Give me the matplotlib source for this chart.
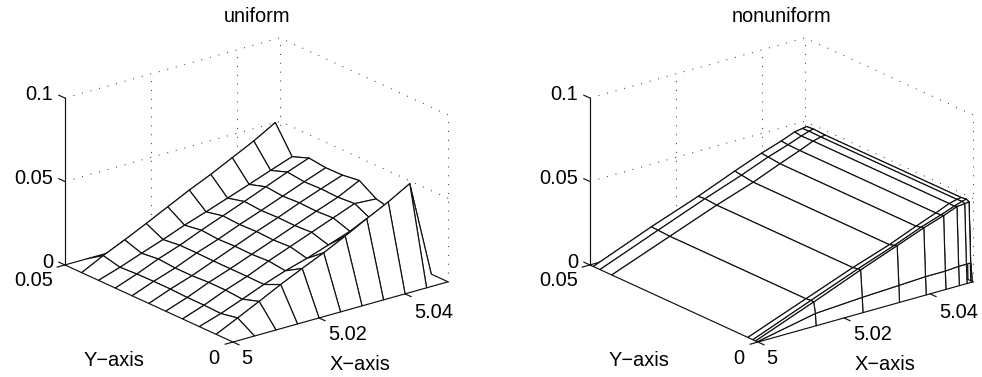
import numpy as np
import matplotlib
matplotlib.use("Agg")
import matplotlib.pyplot as plt
from mpl_toolkits.mplot3d import Axes3D  # noqa: F401

plt.rcParams["font.family"] = ["Liberation Sans", "DejaVu Sans"]

# ==========================
# Data
# ==========================
x_uniform = [5.0, 5.005, 5.01, 5.015, 5.02, 5.025, 5.03, 5.035, 5.04, 5.045, 5.05]
y_uniform = [0.0, 0.005, 0.01, 0.015, 0.02, 0.025, 0.03, 0.035, 0.04, 0.045, 0.05]
# one row per y value, one column per x value
z_uniform = [
    [0, 0, 0, 0, 0, 0, 0, 0, 0, 0, 0],
    [0, .0062, .0125, .0190, .0250, .0308, .0372, .0440, .0504, .0578, 0],
    [0, .0042, .0092, .0144, .0190, .0228, .0272, .0318, .0352, .0370, 0],
    [0, .0046, .0100, .0146, .0202, .0252, .0302, .0352, .0402, .0394, 0],
    [0, .0046, .0100, .0146, .0196, .0246, .0296, .0346, .0394, .0458, 0],
    [0, .0050, .0094, .0146, .0198, .0250, .0298, .0350, .0398, .0444, 0],
    [0, .0050, .0094, .0148, .0194, .0246, .0294, .0344, .0394, .0442, 0],
    [0, .0048, .0102, .0148, .0202, .0252, .0302, .0354, .0406, .0454, 0],
    [0, .0042, .0090, .0136, .0186, .0230, .0276, .0322, .0370, .0416, 0],
    [0, .0066, .0124, .0186, .0250, .0314, .0372, .0436, .0500, .0574, 0],
    [0, 0, 0, 0, 0, 0, 0, 0, 0, 0, 0],
]

x_nonuniform = [5.0, 5.0135, 5.0244, 5.0329, 5.0391, 5.0437, 5.0468, 5.0486, 5.0496, 5.05]
y_nonuniform = [0.0, 0.0002, 0.0007, 0.0015, 0.003, 0.0435, 0.047, 0.049, 0.05]
z_nonuniform = [
    [0, 0, 0, 0, 0, 0, 0, 0, 0, 0],
    [0, .0072, .0090, .0100, .0108, .0108, .0114, .0114, .0114, 0],
    [0, .0136, .0250, .0334, .0396, .0436, .0468, .0472, .0476, 0],
    [0, .0138, .0248, .0328, .0392, .0432, .0462, .0478, .0484, 0],
    [0, .0134, .0242, .0318, .0384, .0430, .0464, .0476, .0480, 0],
    [0, .0134, .0242, .0318, .0384, .0430, .0464, .0476, .0480, 0],
    [0, .0138, .0248, .0328, .0392, .0432, .0462, .0478, .0484, 0],
    [0, .0140, .0244, .0334, .0396, .0436, .0468, .0476, .0480, 0],
    [0, 0, 0, 0, 0, 0, 0, 0, 0, 0],
]

x_ticks = [5, 5.02, 5.04]
y_ticks = [0, 0.05]
z_ticks = [0, 0.05, 0.1]
x_tick_labels = ["5", "5.02", "5.04"]
y_tick_labels = ["0", "0.05"]
z_tick_labels = ["0", "0.05", "0.1"]
titles = ["uniform", "nonuniform"]

# ==========================
# Layout (pixels)
# ==========================
W, H = 982, 377
panel_shift = 525
axes_size = 413
axes_left = 44.4
axes_bottom = -25

x_min, x_max = 5, 5.05
y_min, y_max = 0, 0.05
z_min, z_max = 0, 0.1
tick_x = 0.0018
tick_y = 0.0018


def put_text(shift, px, py, s, ha="center"):
    plt.gcf().text((px + shift) / W, 1 - py / H, s, ha=ha, va="center", fontsize=14.4)


def draw_panel(x, y, z, title, shift):
    ax = fig.add_axes([(axes_left + shift) / W, axes_bottom / H, axes_size / W, axes_size / H],
                      projection="3d", proj_type="ortho", computed_zorder=False)
    ax.view_init(elev=21, azim=-128)
    ax.set_xlim(x_min, x_max, view_margin=0)
    ax.set_ylim(y_min, y_max, view_margin=0)
    ax.set_zlim(z_min, z_max, view_margin=0)
    ax.set_box_aspect((1, 1, 0.655))
    ax.set_axis_off()

    # dotted box grid
    dots = dict(color="#444444", lw=0.75, ls=(0, (1, 7.5)), zorder=1)
    for zt in z_ticks[1:]:
        ax.plot([x_min, x_max], [y_max, y_max], [zt, zt], **dots)
        ax.plot([x_max, x_max], [y_min, y_max], [zt, zt], **dots)
    for xt in x_ticks[1:] + [x_max]:
        ax.plot([xt, xt], [y_max, y_max], [z_min, z_max], **dots)
    ax.plot([x_max, x_max], [y_min, y_min], [z_min, z_max], **dots)

    # surface with hidden lines
    X, Y = np.meshgrid(x, y)
    ax.plot_surface(X, Y, np.array(z), rstride=1, cstride=1, color="white",
                    edgecolor="#111111", linewidth=0.85, shade=False, zorder=2)

    # axis lines and ticks
    solid = dict(color="#111111", lw=0.85, zorder=3)
    ax.plot([x_min, x_min], [y_max, y_max], [z_min, z_max], **solid)
    for zt in z_ticks:
        ax.plot([x_min, x_min], [y_max, y_max + tick_y], [zt, zt], **solid)
    for xt in x_ticks:
        ax.plot([xt, xt], [y_min, y_min - tick_y], [z_min, z_min], **solid)
    for yt in y_ticks:
        ax.plot([x_min, x_min - tick_x], [yt, yt], [z_min, z_min], **solid)

    # text
    put_text(shift, 257, 16, title)
    for label, py in zip(z_tick_labels, [262, 178, 95]):
        put_text(shift, 53, py, label, ha="right")
    put_text(shift, 53, 281, y_tick_labels[1], ha="right")
    put_text(shift, 214, 358, y_tick_labels[0])
    for label, px, py in zip(x_tick_labels, [247, 348, 434], [358, 335, 312]):
        put_text(shift, px, py, label)
    put_text(shift, 114, 360, "Y\u2212axis")
    put_text(shift, 360, 364, "X\u2212axis")


fig = plt.figure(figsize=(W / 100, H / 100), dpi=100)
draw_panel(x_uniform, y_uniform, z_uniform, titles[0], 0)
draw_panel(x_nonuniform, y_nonuniform, z_nonuniform, titles[1], panel_shift)
fig.savefig("out.png", dpi=100)
